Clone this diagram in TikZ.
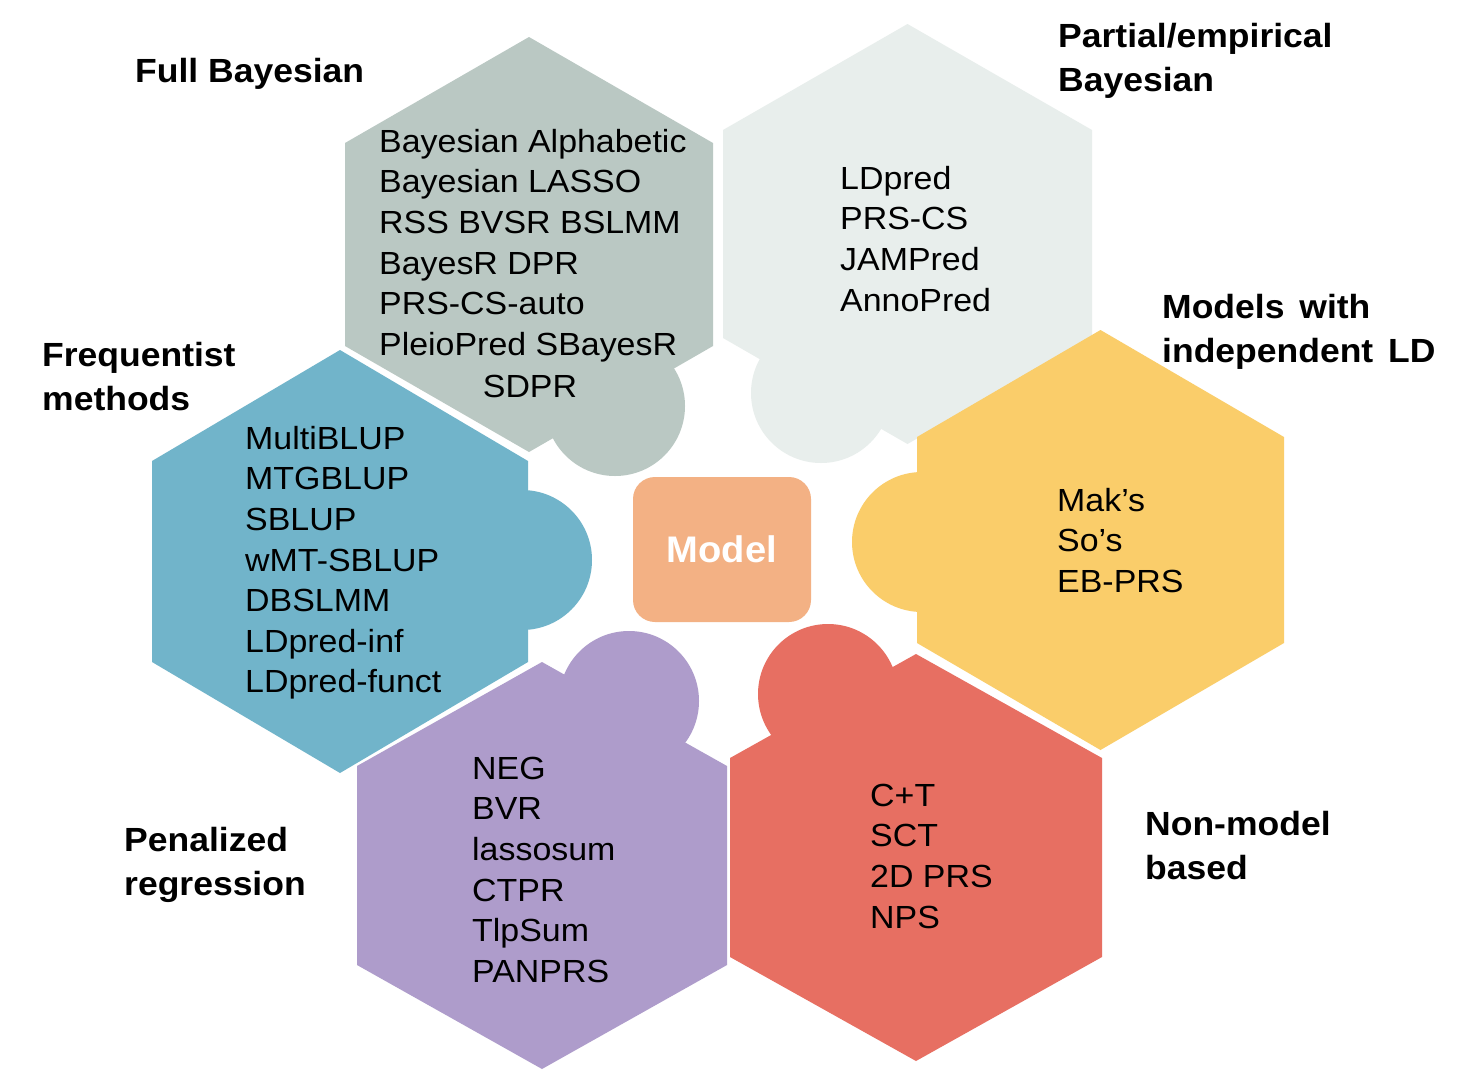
\documentclass[tikz,border=0pt]{standalone}
\usepackage{fontspec}
\setmainfont{Liberation Sans}
\newfontfamily\bodyfont[FakeStretch=1.06]{Liberation Sans}
\newfontfamily\titlefont[FakeStretch=1.06]{Liberation Sans}
\newfontfamily\modelfont[FakeStretch=1.03]{Liberation Sans}
\definecolor{fullc}{RGB}{186,200,195}
\definecolor{partc}{RGB}{232,238,236}
\definecolor{indc}{RGB}{250,205,106}
\definecolor{nonc}{RGB}{231,111,98}
\definecolor{penc}{RGB}{174,156,203}
\definecolor{freqc}{RGB}{113,180,202}
\definecolor{modc}{RGB}{243,177,132}
\newcommand\hxs{\rule{0pt}{0.8em}}
\tikzset{
  lst/.style={inner sep=0pt, anchor=north west, align=left, font=\bodyfont\fontsize{32}{40.6}\selectfont},
  ttl/.style={inner sep=0pt, anchor=north west, align=left, font=\titlefont\bfseries\fontsize{33.5}{44.5}\selectfont},
  modelbox/.style={fill=modc, rounded corners=22pt, minimum width=178pt, minimum height=145pt, inner sep=0pt, text=white, font=\modelfont\bfseries\fontsize{37}{40}\selectfont}
}
\begin{document}
\begin{tikzpicture}[x=1pt,y=-1pt]
\fill[white] (0,0) rectangle (1460,1080);
\path[use as bounding box] (0,0) rectangle (1460,1080);
% Full Bayesian (gray)
\fill[fullc] (529,37) -- ++(184,106) -- ++(0,203) -- ++(-184,106) -- ++(-184,-106) -- ++(0,-203) -- cycle;
\fill[fullc] (615,406) circle[radius=70];
% Partial/empirical (light)
\fill[partc] (907.5,24) -- ++(184.5,106) -- ++(0,208) -- ++(-184.5,106) -- ++(-184.5,-106) -- ++(0,-208) -- cycle;
\fill[partc] (821,393) circle[radius=70];
% Independent LD (yellow)
\fill[indc] (1100.5,330) -- ++(183.5,107) -- ++(0,206) -- ++(-183.5,107) -- ++(-183.5,-107) -- ++(0,-206) -- cycle;
\fill[indc] (922,542) circle[radius=70];
% Non-model (red)
\fill[nonc] (916,654) -- ++(186,104) -- ++(0,199) -- ++(-186,104) -- ++(-186,-104) -- ++(0,-199) -- cycle;
\fill[nonc] (828,694) circle[radius=70];
% Penalized (purple)
\fill[penc] (542,662) -- ++(185,104) -- ++(0,199) -- ++(-185,104) -- ++(-185,-104) -- ++(0,-199) -- cycle;
\fill[penc] (629,701) circle[radius=70];
% Frequentist (blue)
\fill[freqc] (340,350) -- ++(188,111) -- ++(0,201) -- ++(-188,111) -- ++(-188,-111) -- ++(0,-201) -- cycle;
\fill[freqc] (522,560) circle[radius=70];
% centre
\node[modelbox] (model) at (722,549.5) {Model};
% titles
\node[ttl] (tfull) at (135,55.2) {\hxs Full Bayesian};
\node[ttl] (tpart) at (1058,20.2) {\hxs Partial/empirical\\Bayesian};
\node[ttl] (tind) at (1162,291.2) {\hxs Models\hspace{5pt} with\\independent\hspace{5pt} LD};
\node[ttl] (tfreq) at (42,339.2) {\hxs Frequentist\\methods};
\node[ttl] (tpen) at (124,824.2) {\hxs Penalized\\regression};
\node[ttl] (tnon) at (1145,808.2) {\hxs Non-model\\based};
% lists
\node[lst] (lfull) at (379,126.4) {\hxs Bayesian Alphabetic\\Bayesian LASSO\\RSS BVSR BSLMM\\BayesR DPR\\PRS-CS-auto\\PleioPred SBayesR};
\node[lst, anchor=base] (lfull2) at (530,397) {SDPR};
\node[lst] (lpart) at (840,163.4) {\hxs LDpred\\PRS-CS\\JAMPred\\AnnoPred};
\node[lst] (lind) at (1057,485.4) {\hxs Mak’s\\So’s\\EB-PRS};
\node[lst] (lfreq) at (245,423.4) {\hxs MultiBLUP\\MTGBLUP\\SBLUP\\wMT-SBLUP\\DBSLMM\\LDpred-inf\\LDpred-funct};
\node[lst] (lpen) at (472,753.4) {\hxs NEG\\BVR\\lassosum\\CTPR\\TlpSum\\PANPRS};
\node[lst] (lnon) at (870,780.4) {\hxs C+T\\SCT\\2D PRS\\NPS};
\end{tikzpicture}
\end{document}
